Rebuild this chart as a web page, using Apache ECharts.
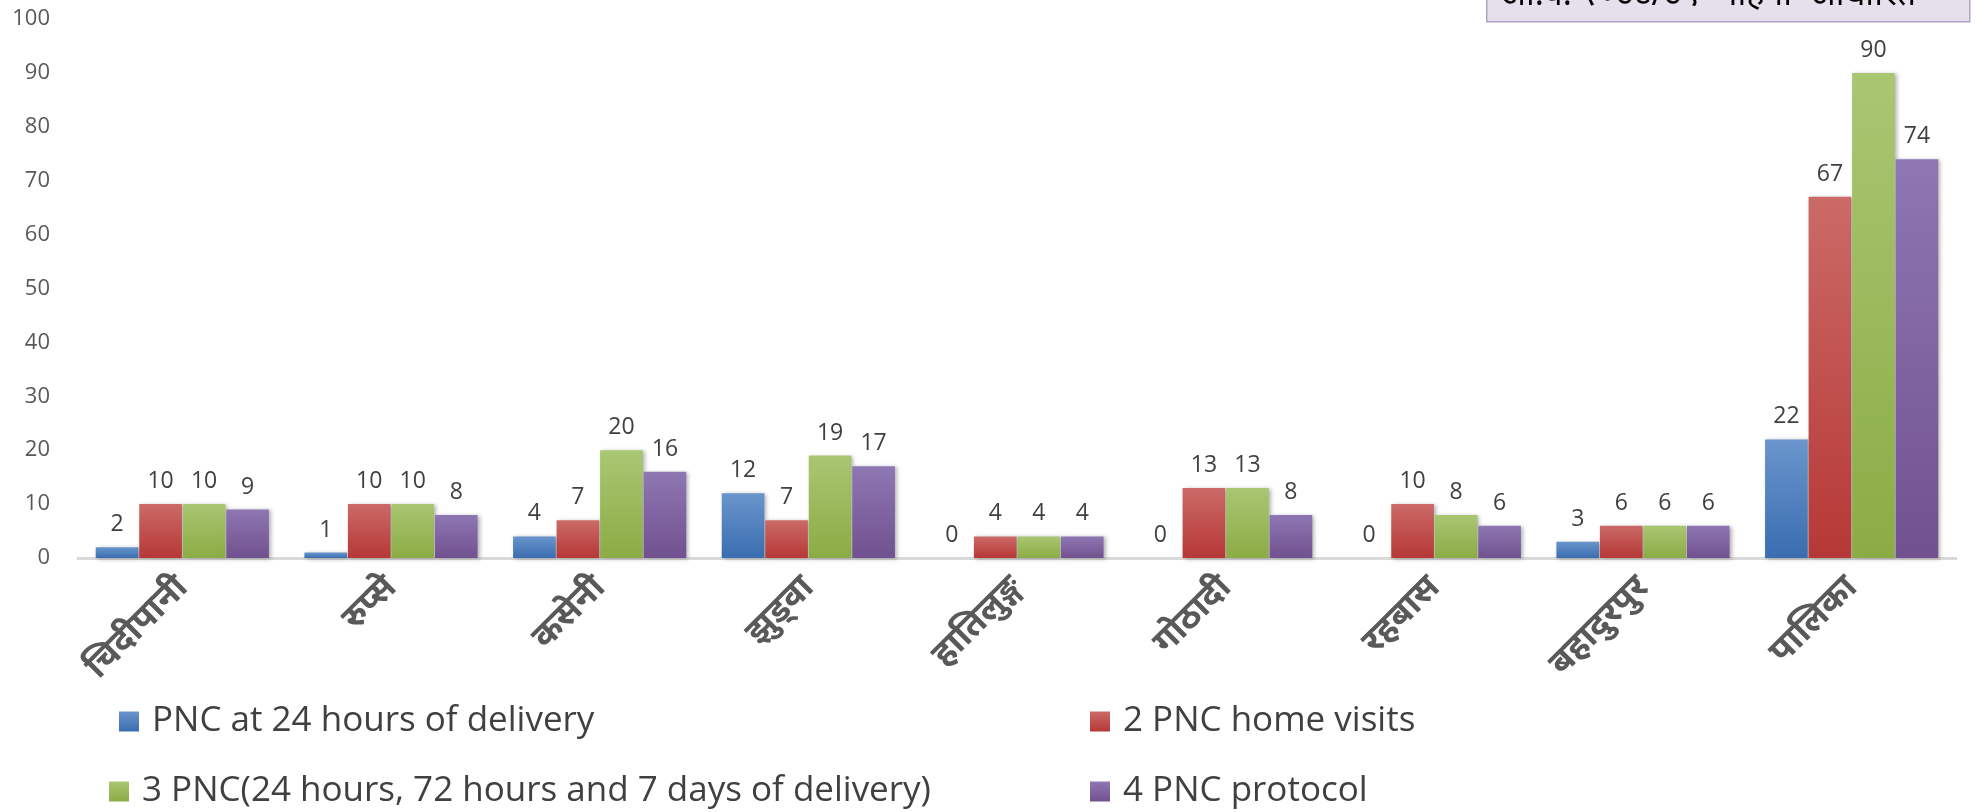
<!DOCTYPE html>
<html>
<head>
<meta charset="utf-8">
<script src="https://cdn.jsdelivr.net/npm/echarts@6/dist/echarts.min.js"></script>
<style>
  html, body { margin: 0; padding: 0; background: #fff; }
  #chart { width: 1979px; height: 812px; }
</style>
</head>
<body>
<div id="chart"></div>
<script>
  // वडा / पालिका
  const categories = ['चिदीपानी', 'रुप्से', 'कसेनी', 'झुड्वा', 'हातिलुङ्ग', 'गोठादी', 'रहबास', 'बहादुरपुर', 'पालिका']
  const seriesNames = [
    'PNC at 24 hours of delivery',
    '2 PNC home visits',
    '3 PNC(24 hours, 72 hours and 7 days of delivery)',
    '4 PNC protocol'
  ]
  const pnc24 = [2, 1, 4, 12, 0, 0, 0, 3, 22]
  const pncHome = [10, 10, 7, 7, 4, 13, 10, 6, 67]
  const pnc3 = [10, 10, 20, 19, 4, 13, 8, 6, 90]
  const pnc4 = [9, 8, 16, 17, 4, 8, 6, 6, 74]
  const yTicks = [0, 10, 20, 30, 40, 50, 60, 70, 80, 90, 100]

  const allData = [pnc24, pncHome, pnc3, pnc4]
  // top / bottom colours of each bar gradient
  const colors = [
    ['#6A95CC', '#3A6DB0'],
    ['#CB6A67', '#B63836'],
    ['#A9C772', '#8BAC45'],
    ['#8E77B3', '#71518F']
  ]

  const chart = echarts.init(document.getElementById('chart'))

  const series = seriesNames.map((name, i) => ({
    name: name,
    type: 'bar',
    data: allData[i],
    barGap: '2%',
    barCategoryGap: '17%',
    itemStyle: {
      color: new echarts.graphic.LinearGradient(0, 0, 0, 1, [
        { offset: 0, color: colors[i][0] },
        { offset: 1, color: colors[i][1] }
      ]),
      shadowColor: 'rgba(0,0,0,0.3)',
      shadowBlur: 4,
      shadowOffsetX: 2,
      shadowOffsetY: 1
    },
    label: {
      show: true,
      position: 'top',
      distance: 11,
      color: '#404040',
      fontSize: 23,
      fontFamily: 'Open Sans'
    }
  }))

  // legend: 2 rows x 2 columns
  const legendPos = [
    { left: 114, top: 699 },
    { left: 1085, top: 699 },
    { left: 104, top: 769 },
    { left: 1085, top: 769 }
  ]
  const legends = seriesNames.map((name, i) => ({
    data: [name],
    left: legendPos[i].left,
    top: legendPos[i].top,
    itemWidth: 20,
    itemHeight: 20,
    itemGap: 0,
    icon: 'rect',
    textStyle: {
      fontSize: 35,
      color: '#404040',
      fontFamily: 'Open Sans',
      padding: [0, 0, 0, 8]
    },
    selectedMode: false
  }))

  const option = {
    animation: false,
    backgroundColor: '#fff',
    color: colors.map(c => c[1]),
    grid: {
      left: 78,
      right: 23,
      top: 19,
      bottom: 254,
      containLabel: false
    },
    legend: legends,
    xAxis: {
      type: 'category',
      data: categories,
      axisLine: { lineStyle: { color: '#D9D9D9', width: 3 } },
      axisTick: { show: false },
      axisLabel: {
        rotate: 45,
        interval: 0,
        margin: 24,
        fontSize: 35,
        fontWeight: 'bold',
        color: '#595959',
        fontFamily: 'Noto Sans'
      }
    },
    yAxis: {
      type: 'value',
      min: 0,
      max: 100,
      interval: 10,
      axisLine: { show: false },
      axisTick: { show: false },
      splitLine: { show: false },
      axisLabel: {
        margin: 28,
        fontSize: 22,
        color: '#595959',
        fontFamily: 'Open Sans',
        formatter: v => (yTicks.includes(v) ? String(v) : '')
      }
    },
    graphic: [
      {
        type: 'rect',
        left: 1486,
        top: -40,
        shape: { width: 483, height: 61 },
        style: { fill: '#E5E0EC', stroke: '#B3A2C7', lineWidth: 1.5 }
      },
      {
        type: 'text',
        left: 1500,
        top: -22,
        style: {
          text: 'आ.व. २०७८/७९  महिना  आधारित',
          font: '34px "Noto Sans"',
          fill: '#000'
        }
      }
    ],
    series: series
  }

  chart.setOption(option)
</script>
</body>
</html>
